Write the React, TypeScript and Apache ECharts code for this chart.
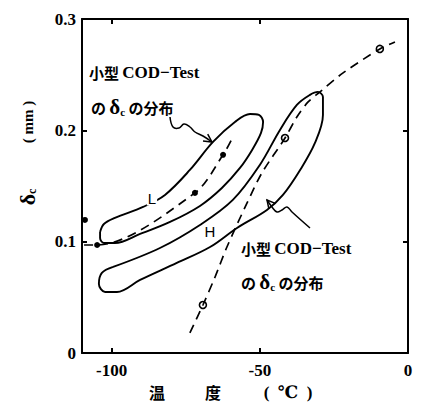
import React, { useEffect, useRef } from "react";
import * as echarts from "echarts";

const xTickValues = [-100, -50, 0];
const yTickValues = [0, 0.1, 0.2, 0.3];

// L distribution contour (closed)
const lContour: [number, number][] = [
  [-103.9, 0.1087], [-102.6, 0.1159], [-98.9, 0.1213], [-89.4, 0.1312], [-82.0, 0.142],
  [-73.6, 0.1644], [-65.8, 0.1896], [-58.4, 0.2075], [-53.3, 0.2147], [-50.3, 0.2138],
  [-48.9, 0.2075], [-49.6, 0.1977], [-52.6, 0.1824], [-56.7, 0.1662], [-62.8, 0.1482],
  [-70.2, 0.1321], [-80.3, 0.1177], [-90.4, 0.1069], [-98.9, 0.0988], [-102.6, 0.0988],
  [-103.9, 0.1033], [-103.9, 0.1087],
];

// H distribution contour (closed)
const hContour: [number, number][] = [
  [-99.5, 0.0773], [-83.7, 0.0943], [-70.2, 0.115], [-59.1, 0.1375], [-50.0, 0.1689],
  [-43.2, 0.2004], [-37.5, 0.2228], [-33.1, 0.2318], [-30.4, 0.2345], [-28.7, 0.23],
  [-28.7, 0.2138], [-31.4, 0.1887], [-36.4, 0.1644], [-42.2, 0.142], [-47.6, 0.1285],
  [-57.7, 0.1123], [-66.8, 0.0952], [-78.0, 0.0809], [-90.4, 0.0656], [-98.2, 0.0548],
  [-102.2, 0.0548], [-104.3, 0.062], [-103.3, 0.0719], [-99.5, 0.0773],
];

// L transition curve (filled dots)
const lCurve: [number, number][] = [
  [-109.3, 0.097], [-104.9, 0.097], [-71.9, 0.1438], [-62.4, 0.178], [-59.1, 0.194],
];
const lPoints: [number, number][] = [
  [-104.9, 0.097], [-71.9, 0.1438], [-62.4, 0.178], [-109.0, 0.1195],
];

// H transition curve (open circles)
const hCurve: [number, number][] = [
  [-73.6, 0.018], [-69.2, 0.0431], [-65.1, 0.0683], [-61.1, 0.0952], [-54.3, 0.1348],
  [-49.3, 0.1617], [-41.5, 0.1931], [-37.5, 0.212], [-33.7, 0.2255], [-29.7, 0.2345],
  [-21.9, 0.2516], [-9.5, 0.2731], [-4.4, 0.2794],
];
const hPoints: [number, number][] = [
  [-69.2, 0.0431], [-41.5, 0.1931], [-9.5, 0.2731],
];

const SERIF = "'Liberation Serif', 'DejaVu Serif', serif";
const JP = "'Noto Sans CJK JP', 'Noto Sans CJK SC', sans-serif";
const SANS = "'Liberation Sans', 'DejaVu Sans', sans-serif";

const annRich = {
  k: { fontFamily: JP, fontSize: 15, fontWeight: "bold", color: "#000" },
  l: { fontFamily: SERIF, fontSize: 17, fontWeight: "bold", color: "#000" },
  d: { fontFamily: SERIF, fontSize: 21, fontWeight: "bold", color: "#000" },
  s: { fontFamily: SERIF, fontSize: 11, fontWeight: "bold", color: "#000", verticalAlign: "bottom", padding: [6, 0, 0, 0] },
};

function annot(x: number, y: number, text: string) {
  return {
    type: "text",
    x,
    y,
    z: 100,
    style: { text, rich: annRich, align: "left", verticalAlign: "middle", fill: "#000" },
  };
}

export default function App() {
  const ref = useRef<HTMLDivElement>(null);
  useEffect(() => {
    const chart = echarts.init(ref.current!, null, { renderer: "svg" });
    const axisLineStyle = { color: "#000", width: 2 };
    const option: any = {
      animation: false,
      backgroundColor: "#fff",
      grid: { left: 82, right: 15, top: 19, bottom: 57 },
      xAxis: [
        {
          type: "value", min: -110, max: 0, position: "bottom",
          axisLine: { show: true, onZero: false, lineStyle: axisLineStyle },
          axisTick: { show: true, inside: true, length: 5, customValues: [-100, -50], lineStyle: axisLineStyle },
          axisLabel: {
            customValues: xTickValues, formatter: (v: number) => String(v),
            fontFamily: SERIF, fontWeight: "bold", fontSize: 17, color: "#000", margin: 9,
          },
          splitLine: { show: false },
        },
        {
          type: "value", min: -110, max: 0, position: "top",
          axisLine: { show: true, onZero: false, lineStyle: axisLineStyle },
          axisTick: { show: true, inside: true, length: 5, customValues: [-100, -50], lineStyle: axisLineStyle },
          axisLabel: { show: false },
          splitLine: { show: false },
        },
      ],
      yAxis: [
        {
          type: "value", min: 0, max: 0.3, interval: 0.1, position: "left",
          axisLine: { show: true, onZero: false, lineStyle: axisLineStyle },
          axisTick: { show: true, inside: true, length: 5, customValues: [0.1, 0.2], lineStyle: axisLineStyle },
          axisLabel: {
            customValues: yTickValues,
            formatter: (v: number) => (v === 0 ? "0" : v.toFixed(1)),
            fontFamily: SERIF, fontWeight: "bold", fontSize: 17, color: "#000", margin: 6,
          },
          splitLine: { show: false },
        },
        {
          type: "value", min: 0, max: 0.3, interval: 0.1, position: "right",
          axisLine: { show: true, onZero: false, lineStyle: axisLineStyle },
          axisTick: { show: true, inside: true, length: 5, customValues: [0.1, 0.2], lineStyle: axisLineStyle },
          axisLabel: { show: false },
          splitLine: { show: false },
        },
      ],
      series: [
        {
          type: "line", data: lContour, smooth: 0.35, showSymbol: false, symbol: "none",
          lineStyle: { color: "#000", width: 1.9 },
        },
        {
          type: "line", data: hContour, smooth: 0.35, showSymbol: false, symbol: "none",
          lineStyle: { color: "#000", width: 1.9 },
        },
        {
          type: "line", data: lCurve, smooth: 0.3, showSymbol: false, symbol: "none", clip: false,
          lineStyle: { color: "#000", width: 1.7, type: [9, 6] },
        },
        {
          type: "line", data: hCurve, smooth: 0.3, showSymbol: false, symbol: "none",
          lineStyle: { color: "#000", width: 1.7, type: [9, 6] },
        },
        {
          type: "scatter", data: lPoints, symbol: "circle", symbolSize: 6, clip: false,
          itemStyle: { color: "#000", opacity: 1 },
        },
        {
          type: "scatter", data: hPoints, symbol: "circle", symbolSize: 7,
          itemStyle: { color: "#fff", borderColor: "#000", borderWidth: 1.6, opacity: 1 },
        },
      ],
      graphic: [
        annot(89, 72, "{k|小型} {l|COD−Test}"),
        annot(91, 107, "{k|の} {d|δ}{s|c} {k|の分布}"),
        annot(241, 248, "{k|小型} {l|COD−Test}"),
        annot(241, 282, "{k|の} {d|δ}{s|c} {k|の分布}"),
        {
          type: "text", x: 152, y: 198, z: 100,
          style: { text: "L", fontFamily: SANS, fontSize: 15, fill: "#000", align: "center", verticalAlign: "middle", backgroundColor: "#fff", padding: [0, 1] },
        },
        {
          type: "text", x: 210, y: 231, z: 100,
          style: { text: "H", fontFamily: SANS, fontSize: 15, fill: "#000", align: "center", verticalAlign: "middle" },
        },
        // squiggle arrow 1
        {
          type: "polyline", z: 100,
          shape: { points: [[170, 117], [173, 127], [179, 128], [184, 124], [190, 127], [195, 132], [203, 136], [212, 142]], smooth: 0.4 },
          style: { stroke: "#000", lineWidth: 1.5, fill: null },
        },
        {
          type: "polyline", z: 100,
          shape: { points: [[203, 141.1], [212, 142], [207.7, 134.1]] },
          style: { stroke: "#000", lineWidth: 1.5, fill: null },
        },
        // squiggle arrow 2
        {
          type: "polyline", z: 100,
          shape: { points: [[267, 200], [272, 207], [277, 212], [282, 210], [287, 207], [292, 212], [310, 228]], smooth: 0.4 },
          style: { stroke: "#000", lineWidth: 1.5, fill: null },
        },
        {
          type: "polyline", z: 100,
          shape: { points: [[275.3, 203.4], [267, 200], [268.9, 208.8]] },
          style: { stroke: "#000", lineWidth: 1.5, fill: null },
        },
        // y axis title
        {
          type: "text", x: 27, y: 197, rotation: Math.PI / 2, z: 100,
          style: {
            text: "{d|δ}{s|c}", align: "center", verticalAlign: "middle",
            rich: {
              d: { fontFamily: SERIF, fontSize: 22, fontWeight: "bold", color: "#000" },
              s: { fontFamily: SERIF, fontSize: 12, fontWeight: "bold", color: "#000", verticalAlign: "bottom", padding: [7, 0, 0, 0] },
            },
          },
        },
        {
          type: "text", x: 28, y: 122, rotation: Math.PI / 2, z: 100,
          style: { text: "( mm )", fontFamily: SERIF, fontSize: 15, fontWeight: "bold", fill: "#000", align: "center", verticalAlign: "middle" },
        },
        // x axis title
        {
          type: "text", x: 157, y: 392, z: 100,
          style: { text: "温", fontFamily: JP, fontSize: 16, fontWeight: "bold", fill: "#000", align: "center", verticalAlign: "middle" },
        },
        {
          type: "text", x: 213, y: 392, z: 100,
          style: { text: "度", fontFamily: JP, fontSize: 16, fontWeight: "bold", fill: "#000", align: "center", verticalAlign: "middle" },
        },
        {
          type: "text", x: 288, y: 392, z: 100,
          style: { text: "(  ℃  )", fontFamily: SERIF, fontSize: 17, fontWeight: "bold", fill: "#000", align: "center", verticalAlign: "middle" },
        },
      ],
    };
    chart.setOption(option);
    return () => chart.dispose();
  }, []);
  return <div ref={ref} style={{ position: "fixed", left: 0, top: 0, width: 423, height: 410 }} />;
}
